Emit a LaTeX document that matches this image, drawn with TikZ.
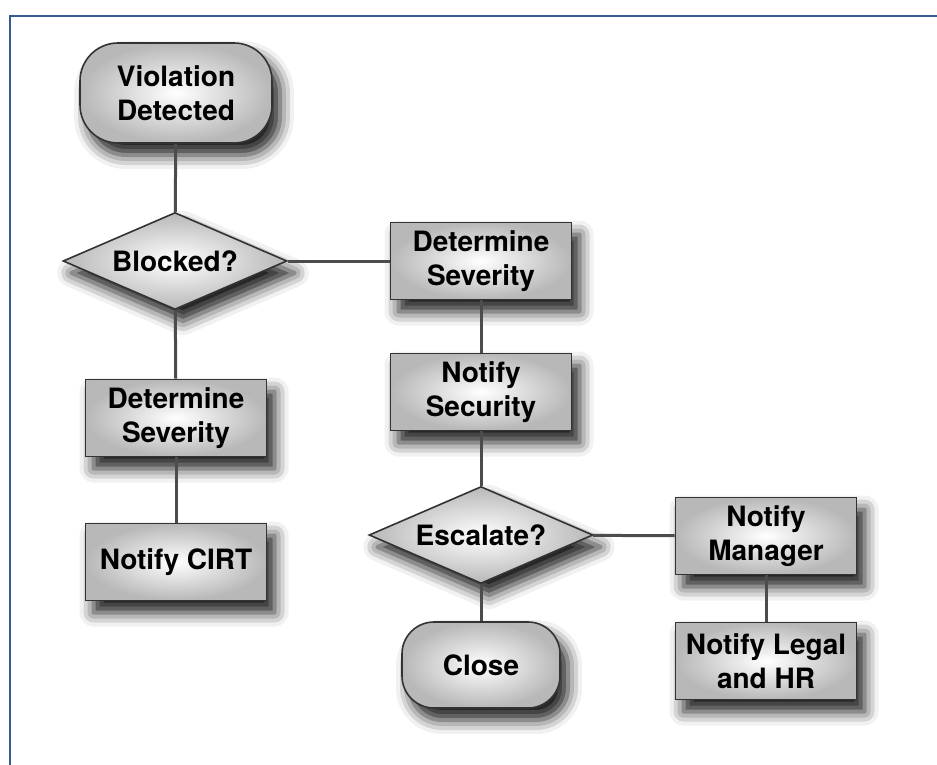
\documentclass[tikz,border=0pt]{standalone}
\usepackage{fontspec}
\setmainfont{TeX Gyre Heros}
\usetikzlibrary{shapes.geometric,shadows.blur}

\definecolor{frameblue}{RGB}{52,91,148}

\tikzset{
	base/.style={draw=black!80, line width=1.6pt, font=\bfseries\fontsize{28}{34}\selectfont, align=center, inner sep=0pt,
		inner color=white, outer color=black!28,
		blur shadow={shadow xshift=8pt, shadow yshift=-12pt, shadow blur radius=14pt, shadow opacity=90}},
	box/.style={base, rectangle, minimum width=181pt, minimum height=77pt},
	term/.style={base, rectangle, rounded corners=38pt},
	decide/.style={base, diamond, aspect=2.3, minimum width=224pt, minimum height=97pt},
	conn/.style={draw=black!70, line width=3pt}
}

\begin{document}
\begin{tikzpicture}[x=1pt,y=-1pt]
			\useasboundingbox (0,0) rectangle (937,765);
			\draw[frameblue, line width=2pt] (10,765) -- (10,16) -- (937,16);
			
			\node[term, minimum width=192pt, minimum height=100pt] (det) at (176,93){Violation\\Detected};
			\node[decide] (blk) at (175,261){Blocked?};
			\node[box] (sev1) at (481,261){Determine\\Severity};
			\node[box] (sec) at (481,392){Notify\\Security};
			\node[box] (sev2) at (176,418){Determine\\Severity};
			\node[box] (cirt) at (176,562){Notify CIRT};
			
			\node[decide] (esc) at (481,535){Escalate?};
			\node[term, minimum width=158pt, minimum height=86pt, rounded corners=32pt] (cls) at (481,665){Close};
			\node[box] (mgr) at (766,536){Notify\\Manager};
			\node[box] (legal) at (766,661){Notify Legal\\and HR};
			
			\draw (det) edge [conn] (blk);
			\draw (blk) edge [conn] (sev1);
			\draw (blk) edge [conn] (sev2);
			\draw (sev2) edge [conn] (cirt);
			\draw (sev1) edge [conn] (sec);
			\draw (sec) edge [conn] (esc);
			\draw (esc) edge [conn] (cls);
			\draw (esc) edge [conn] (mgr);
			\draw (mgr) edge [conn] (legal);
		\end{tikzpicture}
\end{document}
